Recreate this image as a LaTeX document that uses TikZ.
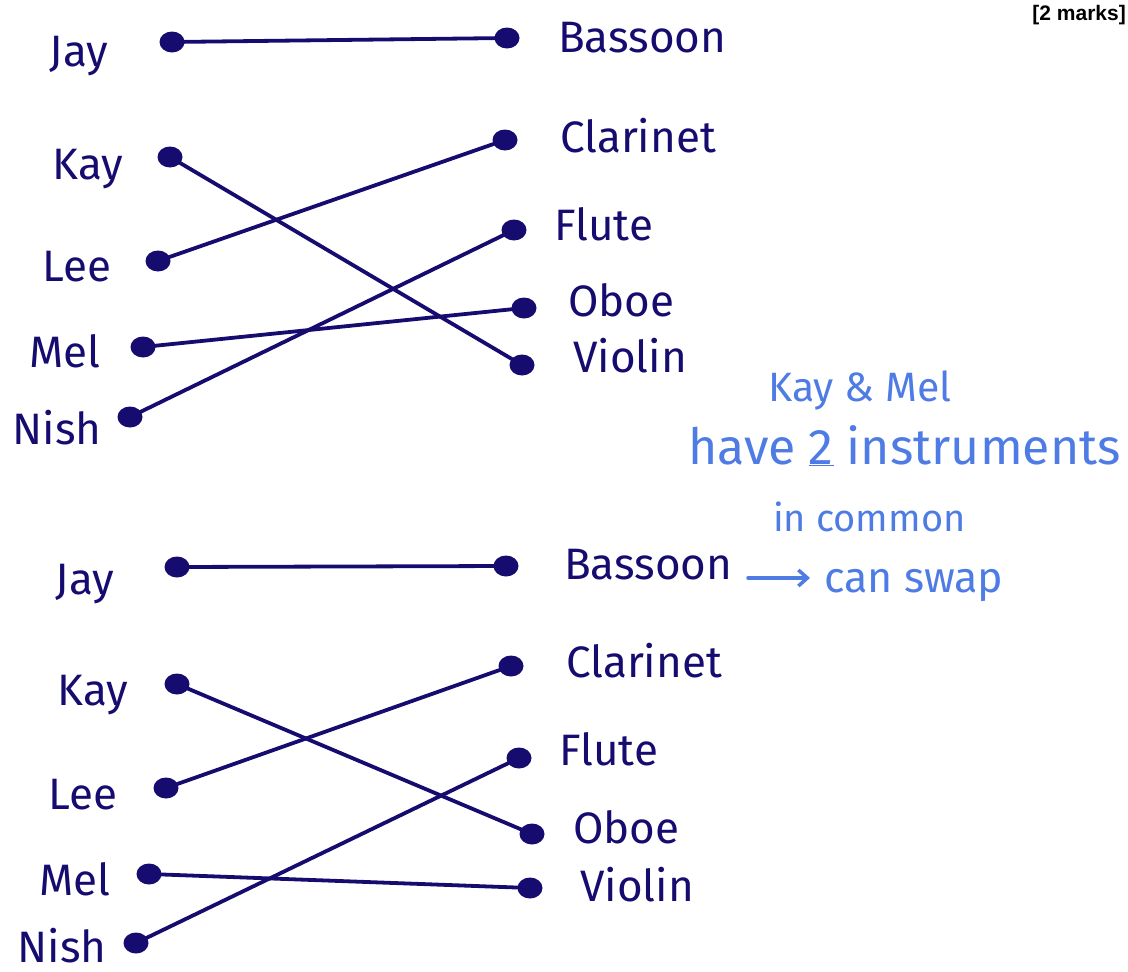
\documentclass[tikz,border=0pt]{standalone}
\usepackage{fontspec}
\usetikzlibrary{shapes.geometric,arrows.meta}
\setmainfont{Fira Sans}
\newfontfamily\markfont{Liberation Sans}
\definecolor{ink}{RGB}{22,12,112}
\definecolor{note}{RGB}{78,124,228}
\begin{document}
\begin{tikzpicture}[x=1pt,y=-1pt,
  dot/.style={ellipse,fill=ink,inner sep=0pt,minimum width=25pt,minimum height=21pt},
  wire/.style={draw=ink,line width=3.8pt,line cap=round},
  person/.style={text=ink,font=\fontsize{44}{50}\selectfont,inner sep=0pt,anchor=base},
  instr/.style={text=ink,font=\fontsize{44}{50}\selectfont,inner sep=0pt,anchor=base west},
  remark/.style={text=note,inner sep=0pt,anchor=base west}]
\useasboundingbox (0,0) rectangle (1128,972);

\node[font=\markfont\bfseries\fontsize{21}{24}\selectfont,anchor=north east,inner sep=0pt] (marks) at (1126,5) {[2 marks]};

% ---- first matching ----
\node[person] (j1) at (79,66) {Jay};
\node[person] (k1) at (88,179) {Kay};
\node[person] (l1) at (77,281) {Lee};
\node[person] (m1) at (65,367) {Mel};
\node[person] (n1) at (57,444) {Nish};
\node[dot] (dj1) at (172,42) {};
\node[dot] (dk1) at (170,157) {};
\node[dot] (dl1) at (158,261) {};
\node[dot] (dm1) at (143,347) {};
\node[dot] (dn1) at (130,417) {};
\node[dot] (db1) at (507,38) {};
\node[dot] (dc1) at (505,140) {};
\node[dot] (df1) at (514,230) {};
\node[dot] (do1) at (524,308) {};
\node[dot] (dv1) at (522,365) {};
\node[instr] (b1) at (558,52) {Bassoon};
\node[instr] (c1) at (560,152) {Clarinet};
\node[instr] (f1) at (554,240) {Flute};
\node[instr] (o1) at (568,316) {Oboe};
\node[instr] (v1) at (573,372) {Violin};
\draw[wire] (dj1.center) -- (db1.center);
\draw[wire] (dk1.center) -- (dv1.center);
\draw[wire] (dl1.center) -- (dc1.center);
\draw[wire] (dm1.center) -- (do1.center);
\draw[wire] (dn1.center) -- (df1.center);

% ---- second matching ----
\node[person] (j2) at (85,594) {Jay};
\node[person] (k2) at (93,705) {Kay};
\node[person] (l2) at (83,809) {Lee};
\node[person] (m2) at (75,895) {Mel};
\node[person,text depth=0pt] (n2) at (62,962) {Nish};
\node[dot] (dj2) at (177,567) {};
\node[dot] (dk2) at (177,684) {};
\node[dot] (dl2) at (166,788) {};
\node[dot] (dm2) at (149,874) {};
\node[dot] (dn2) at (136,943) {};
\node[dot] (db2) at (506,566) {};
\node[dot] (dc2) at (511,666) {};
\node[dot] (df2) at (519,758) {};
\node[dot] (do2) at (532,834) {};
\node[dot] (dv2) at (530,888) {};
\node[instr] (b2) at (564,579) {Bassoon};
\node[instr] (c2) at (566,677) {Clarinet};
\node[instr] (f2) at (559,765) {Flute};
\node[instr] (o2) at (573,843) {Oboe};
\node[instr] (v2) at (580,901) {Violin};
\draw[wire] (dj2.center) -- (db2.center);
\draw[wire] (dk2.center) -- (do2.center);
\draw[wire] (dl2.center) -- (dc2.center);
\draw[wire] (dm2.center) -- (dv2.center);
\draw[wire] (dn2.center) -- (df2.center);

% ---- note ----
\node[remark,font=\fontsize{41}{46}\selectfont] (r1) at (768,401) {Kay \& Mel};
\node[remark,font=\fontsize{50}{56}\selectfont] (r2) at (688,464) {have \underline{2} instruments};
\node[remark,font=\fontsize{38}{44}\selectfont] (r3) at (773,531) {in common};
\node[remark,font=\fontsize{43}{48}\selectfont] (r4) at (824,592) {can swap};
\coordinate (tail) at (748,578);
\draw[note,line width=3.5pt,line cap=round,shorten >=14pt,-{Straight Barb[length=9pt,width=16pt,line width=3.5pt]}] (tail) -- (r4.west |- tail);
\end{tikzpicture}
\end{document}
